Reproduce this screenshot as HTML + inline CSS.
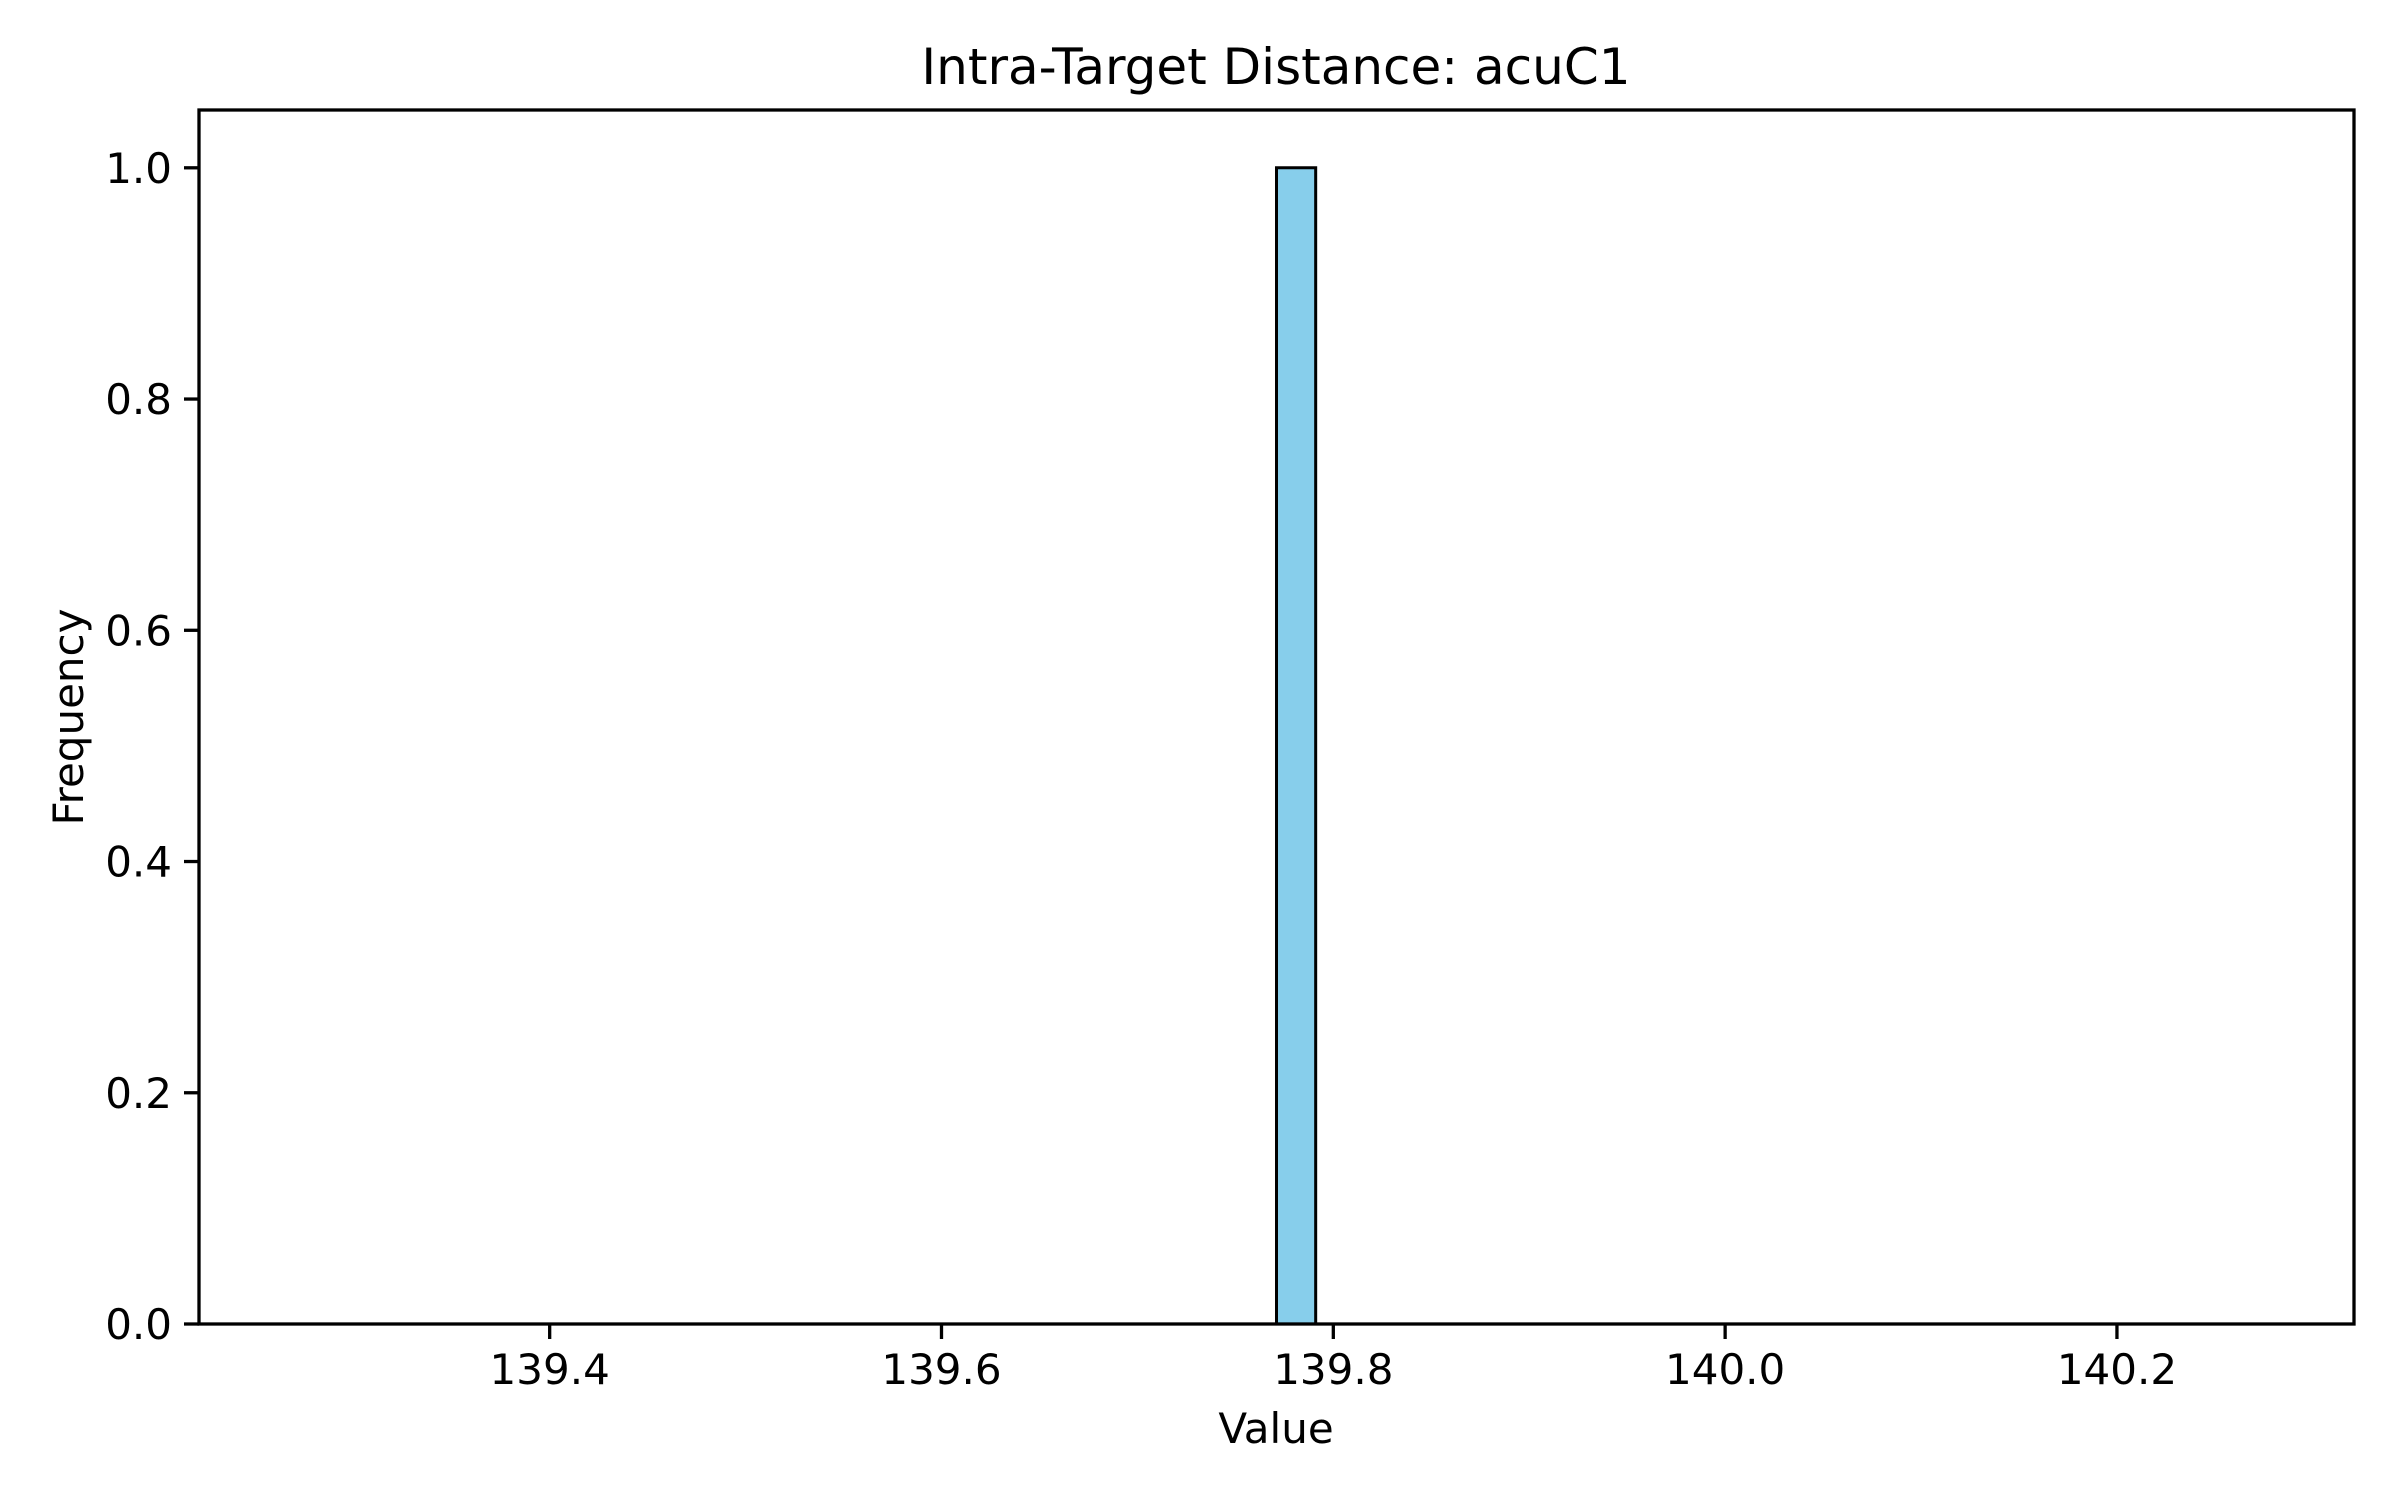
<!DOCTYPE html>
<html><head><meta charset="utf-8">
<style>
html,body{margin:0;padding:0;background:#fff;}
svg{display:block;font-family:"DejaVu Sans","Liberation Sans",sans-serif;}
</style></head>
<body>
<svg id="chart" width="2400" height="1500" viewBox="0 0 2400 1500">
<rect x="0" y="0" width="2400" height="1500" fill="#fff"/>
<text x="1276" y="84" font-size="50" text-anchor="middle" fill="#000">Intra-Target Distance: acuC1</text>
<g id="bars"></g>
<g id="xticks"></g>
<g id="yticks"></g>
<rect x="199" y="110" width="2155" height="1214" fill="none" stroke="#000" stroke-width="3.3"/>
<text x="1276" y="1443" font-size="42" text-anchor="middle">Value</text>
<text transform="translate(83,717) rotate(-90)" font-size="42" text-anchor="middle">Frequency</text>
</svg>
<script>
const binStart = 139.271;
const binWidth = 0.02;
const counts = [0,0,0,0,0,0,0,0,0,0,0,0,0,0,0,0,0,0,0,0,0,0,0,0,0,1,0,0,0,0,0,0,0,0,0,0,0,0,0,0,0,0,0,0,0,0,0,0,0,0];
const xTickValues = [139.4, 139.6, 139.8, 140.0, 140.2];
const xTickLabels = ["139.4", "139.6", "139.8", "140.0", "140.2"];
const yTickValues = [0, 0.2, 0.4, 0.6, 0.8, 1.0];
const yTickLabels = ["0.0", "0.2", "0.4", "0.6", "0.8", "1.0"];

const L=199,R=2354,T=110,B=1324;
const xMin=139.221,xMax=140.321,yMin=0,yMax=1.05;
const xs=v=>L+(v-xMin)/(xMax-xMin)*(R-L);
const ys=v=>B-(v-yMin)/(yMax-yMin)*(B-T);
const NS="http://www.w3.org/2000/svg";
const bars=document.getElementById('bars');
counts.forEach((c,i)=>{
  const x0=xs(binStart+i*binWidth),x1=xs(binStart+(i+1)*binWidth);
  const p=document.createElementNS(NS,'path');
  p.setAttribute('d',`M${x0},${ys(0)}V${ys(c)}H${x1}V${ys(0)}Z`);
  p.setAttribute('fill','#87ceeb');p.setAttribute('stroke','#000');p.setAttribute('stroke-width','3');
  
  
  bars.appendChild(p);
});
const xg=document.getElementById('xticks');
xTickValues.forEach((v,i)=>{
  const x=xs(v);
  const l=document.createElementNS(NS,'line');
  l.setAttribute('x1',x);l.setAttribute('x2',x);l.setAttribute('y1',B);l.setAttribute('y2',B+15);
  l.setAttribute('stroke','#000');l.setAttribute('stroke-width','3.3');
  
  
  xg.appendChild(l);
  const t=document.createElementNS(NS,'text');
  t.setAttribute('x',x);t.setAttribute('y',B+60);t.setAttribute('font-size','42');t.setAttribute('text-anchor','middle');
  t.textContent=xTickLabels[i];
  
  
  xg.appendChild(t);
});
const yg=document.getElementById('yticks');
yTickValues.forEach((v,i)=>{
  const y=ys(v);
  const l=document.createElementNS(NS,'line');
  l.setAttribute('x1',L-15);l.setAttribute('x2',L);l.setAttribute('y1',y);l.setAttribute('y2',y);
  l.setAttribute('stroke','#000');l.setAttribute('stroke-width','3.3');
  
  
  yg.appendChild(l);
  const t=document.createElementNS(NS,'text');
  t.setAttribute('x',L-27);t.setAttribute('y',y+15);t.setAttribute('font-size','42');t.setAttribute('text-anchor','end');
  t.textContent=yTickLabels[i];
  
  
  yg.appendChild(t);
});
</script>
</body></html>
